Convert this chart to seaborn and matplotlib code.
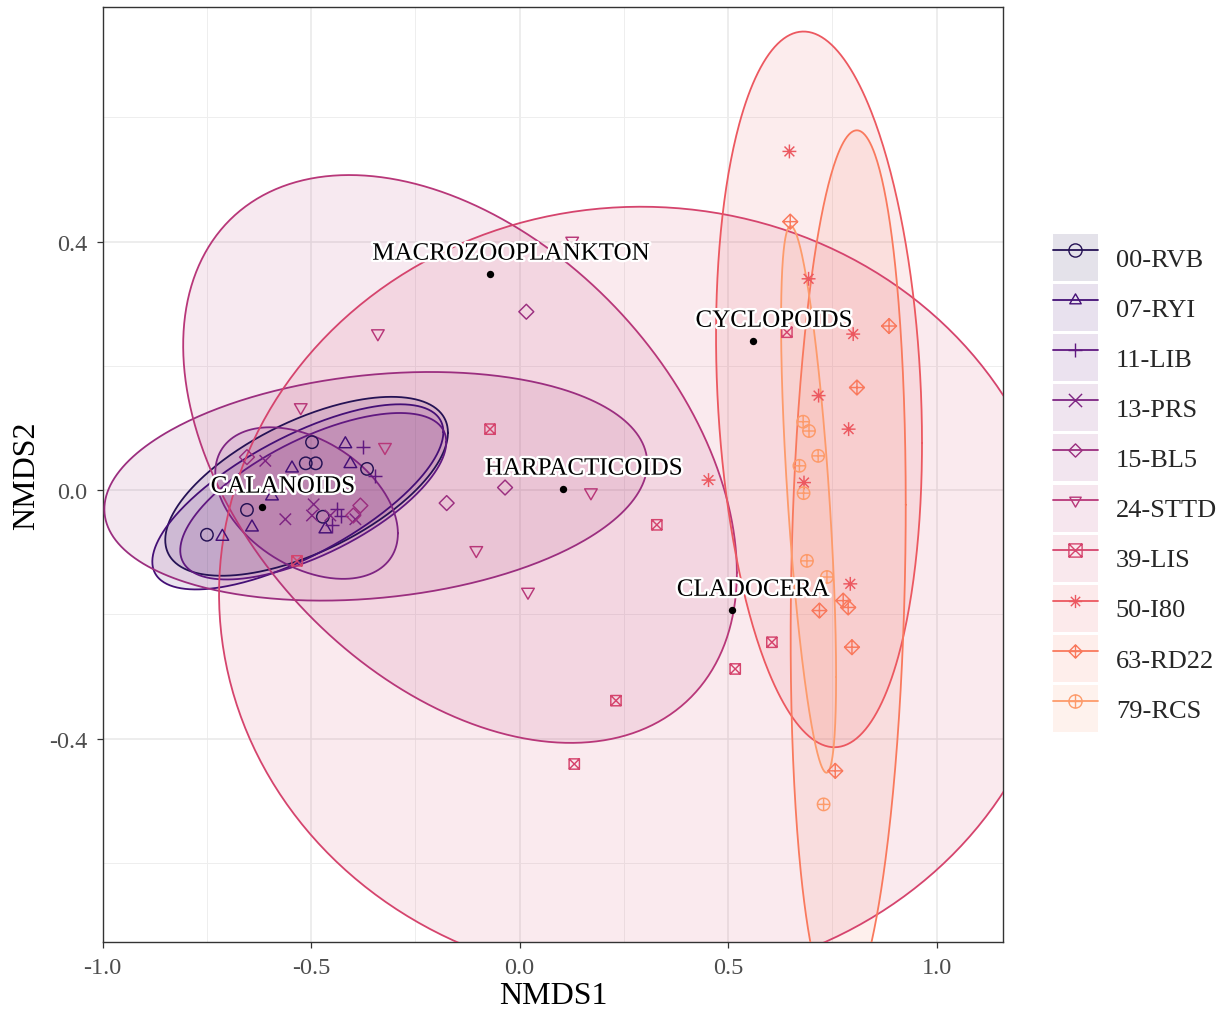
import numpy as np
import pandas as pd
import matplotlib
matplotlib.use("Agg")
import matplotlib.pyplot as plt
import seaborn as sns
from matplotlib.path import Path
from matplotlib.patches import Patch
from matplotlib.lines import Line2D
from matplotlib.legend_handler import HandlerTuple
import matplotlib.patheffects as pe

# ---------------- data ----------------
sites = ["00-RVB", "07-RYI", "11-LIB", "13-PRS", "15-BL5",
         "24-STTD", "39-LIS", "50-I80", "63-RD22", "79-RCS"]

x_00 = [-0.498, -0.513, -0.489, -0.366, -0.654, -0.472, -0.750]
y_00 = [0.077, 0.043, 0.043, 0.034, -0.032, -0.043, -0.072]
x_07 = [-0.418, -0.406, -0.546, -0.642, -0.713, -0.466, -0.594]
y_07 = [0.074, 0.042, 0.035, -0.060, -0.075, -0.063, -0.010]
x_11 = [-0.375, -0.347, -0.438, -0.450, -0.428]
y_11 = [0.069, 0.023, -0.031, -0.057, -0.042]
x_13 = [-0.610, -0.562, -0.498, -0.454, -0.394, -0.494]
y_13 = [0.047, -0.047, -0.041, -0.041, -0.047, -0.023]
x_15 = [-0.654, -0.382, -0.399, -0.175, -0.035, 0.016]
y_15 = [0.053, -0.025, -0.041, -0.021, 0.004, 0.287]
x_24 = [-0.323, -0.525, -0.340, -0.104, 0.020, 0.171, 0.126]
y_24 = [0.069, 0.133, 0.252, -0.097, -0.164, -0.004, 0.401]
x_39 = [-0.071, -0.534, 0.329, 0.605, 0.517, 0.231, 0.131, 0.641]
y_39 = [0.098, -0.114, -0.056, -0.245, -0.288, -0.339, -0.441, 0.254]
x_50 = [0.647, 0.693, 0.800, 0.717, 0.789, 0.453, 0.682, 0.793]
y_50 = [0.545, 0.340, 0.251, 0.152, 0.098, 0.016, 0.012, -0.151]
x_63 = [0.649, 0.886, 0.809, 0.776, 0.788, 0.719, 0.797, 0.757]
y_63 = [0.432, 0.264, 0.165, -0.178, -0.189, -0.194, -0.253, -0.452]
x_79 = [0.680, 0.694, 0.716, 0.671, 0.681, 0.689, 0.737, 0.729]
y_79 = [0.110, 0.095, 0.055, 0.039, -0.005, -0.114, -0.140, -0.506]

xs = [x_00, x_07, x_11, x_13, x_15, x_24, x_39, x_50, x_63, x_79]
ys = [y_00, y_07, y_11, y_13, y_15, y_24, y_39, y_50, y_63, y_79]

# ellipse summaries (centre, half-extent in x / y, correlation)
ell_cx = [-0.511, -0.532, -0.495, -0.511, -0.345, -0.143, 0.291, 0.718, 0.788, 0.693]
ell_cy = [0.006, -0.011, -0.010, -0.021, 0.006, 0.050, -0.167, 0.162, -0.130, -0.015]
ell_rx = [0.339, 0.349, 0.319, 0.219, 0.651, 0.664, 1.012, 0.247, 0.138, 0.066]
ell_ry = [0.144, 0.149, 0.134, 0.122, 0.184, 0.457, 0.623, 0.576, 0.709, 0.440]
ell_r = [0.60, 0.70, 0.65, -0.40, 0.20, -0.40, 0.0, -0.15, 0.15, -0.65]

species = ["MACROZOOPLANKTON", "CALANOIDS", "HARPACTICOIDS", "CYCLOPOIDS", "CLADOCERA"]
sp_x = [-0.071, -0.618, 0.104, 0.560, 0.510]
sp_y = [0.348, -0.027, 0.002, 0.240, -0.193]

# ---------------- style ----------------
sns.set_theme(style="whitegrid")
plt.rcParams["font.family"] = ["Liberation Serif", "DejaVu Serif"]

cmap = sns.color_palette("magma", as_cmap=True)
colors = [cmap(v) for v in np.linspace(0.15, 0.79, 10)]

M, L, C = Path.MOVETO, Path.LINETO, Path.CLOSEPOLY
plus = Path([(0, 1), (0, -1), (-1, 0), (1, 0)], [M, L, M, L])
cross = Path([(-1, -1), (1, 1), (-1, 1), (1, -1)], [M, L, M, L])
circle = Path.unit_circle()
tri_up = Path([(0, 1), (-0.866, -0.5), (0.866, -0.5), (0, 1)], [M, L, L, C])
tri_dn = Path([(0, -1), (-0.866, 0.5), (0.866, 0.5), (0, -1)], [M, L, L, C])
diamond = Path([(0, 1), (1, 0), (0, -1), (-1, 0), (0, 1)], [M, L, L, L, C])
square = Path([(-1, -1), (1, -1), (1, 1), (-1, 1), (-1, -1)], [M, L, L, L, C])
d = 0.7071
cross_s = Path([(-d, -d), (d, d), (-d, d), (d, -d)], [M, L, M, L])
markers = [
    circle, tri_up, plus, cross, diamond, tri_dn,
    Path.make_compound_path(square, cross),
    Path.make_compound_path(plus, cross_s),
    Path.make_compound_path(diamond, plus),
    Path.make_compound_path(circle, plus),
]
msizes = [80, 110, 105, 68, 115, 110, 55, 100, 115, 80]

fig = plt.figure(figsize=(12.21, 10.12), dpi=100)
ax = fig.add_axes([102.7 / 1221, 1 - 942.7 / 1012, (1003.3 - 102.7) / 1221, (942.7 - 8.3) / 1012])

# ellipses
t = np.linspace(0, 2 * np.pi, 400)
for i in range(len(sites)):
    dphi = np.arccos(ell_r[i])
    ex = ell_cx[i] + ell_rx[i] * np.cos(t)
    ey = ell_cy[i] + ell_ry[i] * np.cos(t - dphi)
    ax.fill(ex, ey, facecolor=colors[i], alpha=0.11, edgecolor="none", zorder=2)
    ax.plot(ex, ey, color=colors[i], lw=1.3, zorder=3)

# points
for i, s in enumerate(sites):
    df = pd.DataFrame({"NMDS1": xs[i], "NMDS2": ys[i]})
    sns.scatterplot(data=df, x="NMDS1", y="NMDS2", ax=ax, marker=markers[i],
                    s=msizes[i], facecolor="none", edgecolor=colors[i],
                    color=colors[i], linewidth=1.05, legend=False, zorder=4)

# species scores
sns.scatterplot(x=sp_x, y=sp_y, ax=ax, color="black", s=28, linewidth=0, zorder=5, legend=False)
for name, sx, sy in zip(species, sp_x, sp_y):
    ax.annotate(name, (sx, sy), xytext=(15, 14.5), textcoords="offset points",
                ha="center", va="center", fontsize=18, color="black", zorder=6,
                path_effects=[pe.withStroke(linewidth=3.5, foreground="white")])

ax.set_xlim(-1.0, 1.16)
ax.set_ylim(-0.727, 0.777)
ax.set_xticks([-1.0, -0.5, 0.0, 0.5, 1.0])
ax.set_xticklabels(["-1.0", "-0.5", "0.0", "0.5", "1.0"])
ax.set_yticks([-0.4, 0.0, 0.4])
ax.set_yticklabels(["-0.4", "0.0", "0.4"])
ax.set_xticks([-0.75, -0.25, 0.25, 0.75], minor=True)
ax.set_yticks([-0.6, -0.2, 0.2, 0.6], minor=True)
ax.grid(which="major", color="#e8e8e8", lw=1.1)
ax.grid(which="minor", color="#eeeeee", lw=0.7)
ax.set_axisbelow(True)
ax.set_facecolor("white")
for sp in ax.spines.values():
    sp.set_color("#333333")
    sp.set_linewidth(1.0)
    sp.set_visible(True)
ax.tick_params(which="major", length=4, width=0.9, color="#333333",
               labelsize=17.5, labelcolor="#4d4d4d", pad=7, bottom=True, left=True)
ax.tick_params(which="minor", length=0)
ax.set_xlabel("NMDS1", fontsize=23, color="black", labelpad=2)
ax.set_ylabel("NMDS2", fontsize=23, color="black", labelpad=6)

# legend
handles = []
for i, s in enumerate(sites):
    bg = Patch(facecolor=colors[i], alpha=0.12, edgecolor="none")
    ln = Line2D([], [], color=colors[i], lw=1.3, marker=markers[i], markersize=9.5,
                markerfacecolor="none", markeredgecolor=colors[i], markeredgewidth=1.0)
    handles.append((bg, ln))
fig.legend(handles, sites, loc="upper left", bbox_to_anchor=(1053 / 1221, 1 - 235 / 1012),
           frameon=False, fontsize=19, handlelength=1.7, handleheight=2.36,
           labelspacing=0.12, handletextpad=0.68, borderpad=0, borderaxespad=0,
           handler_map={tuple: HandlerTuple(ndivide=1, pad=0)})

fig.savefig("out.png", dpi=100)
